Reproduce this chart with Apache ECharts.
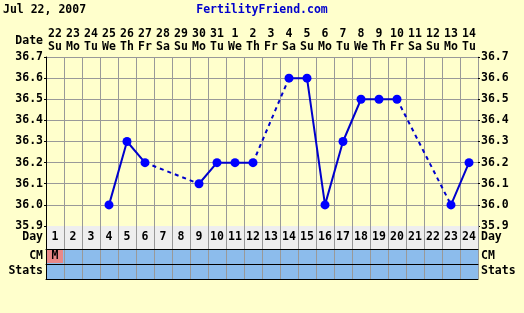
<!DOCTYPE html>
<html><head><meta charset="utf-8">
<script src="https://cdn.jsdelivr.net/npm/echarts@6/dist/echarts.min.js"></script>
<style>html,body{margin:0;padding:0;background:#ffffcc;}#c{width:524px;height:313px;}</style>
</head><body><div id="c"></div>
<script>
var titleText = 'Jul 22, 2007';
var siteText = 'FertilityFriend.com';
var dates = ['22','23','24','25','26','27','28','29','30','31','1','2','3','4','5','6','7','8','9','10','11','12','13','14'];
var weekdays = ['Su','Mo','Tu','We','Th','Fr','Sa','Su','Mo','Tu','We','Th','Fr','Sa','Su','Mo','Tu','We','Th','Fr','Sa','Su','Mo','Tu'];
var days = ['1','2','3','4','5','6','7','8','9','10','11','12','13','14','15','16','17','18','19','20','21','22','23','24'];
var temps = [null,null,null,36.0,36.3,36.2,null,null,36.1,36.2,36.2,36.2,null,36.6,36.6,36.0,36.3,36.5,36.5,36.5,null,null,36.0,36.2];
var cm = ['M','','','','','','','','','','','','','','','','','','','','','','',''];
var yTicks = [35.9,36.0,36.1,36.2,36.3,36.4,36.5,36.6,36.7];

var FONT = 'DejaVu Sans Mono';
var FS = 11.5;
var catsIdx = days.map(function(d,i){return i;});

var series = [];
series.push({
  type:'line', xAxisIndex:0, yAxisIndex:0, data:temps, connectNulls:false,
  symbol:'circle', symbolSize:9, showSymbol:true,
  lineStyle:{color:'#0000cc', width:2},
  itemStyle:{color:'#0000ff'}, z:5, animation:false
});
var prev = -1;
for (var i=0;i<temps.length;i++){
  if (temps[i]===null) continue;
  if (prev>=0 && i-prev>1){
    var d = temps.map(function(){return null;});
    d[prev]=temps[prev]; d[i]=temps[i];
    series.push({type:'line', xAxisIndex:0, yAxisIndex:0, data:d, connectNulls:true,
      symbol:'none', lineStyle:{color:'#0000cc', width:2, type:[4,4]}, z:4, animation:false});
  }
  prev=i;
}
function rowSeries(xi, yi, colors, labels){
  return {type:'bar', xAxisIndex:xi, yAxisIndex:yi, barCategoryGap:0, barGap:0,
    data: days.map(function(d,i){
      var pink = colors[i]==='#e88888';
      return {value:1, itemStyle:{color:colors[i], borderColor:pink?'#8cbcec':colors[i], borderWidth:pink?1:0}};
    }),
    label:{show:true, position:'inside', color:'#000', fontFamily:FONT, fontWeight:'bold', fontSize:FS,
      formatter:function(p){return labels[p.dataIndex];}},
    silent:true, animation:false, z:2};
}
series.push(rowSeries(2, 2, days.map(function(){return '#eeeeee';}), days));
series.push(rowSeries(3, 4, cm.map(function(c){return c==='M'?'#e88888':'#8cbcec';}), cm));
series.push(rowSeries(4, 6, days.map(function(){return '#8cbcec';}), days.map(function(){return '';})));

var grids = [
  {left:46, top:57, width:432, height:169},
  {left:46, top:226, width:432, height:23},
  {left:46, top:249, width:432, height:15},
  {left:46, top:264, width:432, height:15}
];
var gray = '#999999';
var txt = {color:'#000', fontFamily:FONT, fontWeight:'bold', fontSize:FS};

var xAxes = [
  {type:'category', gridIndex:0, data:catsIdx, position:'bottom', boundaryGap:true,
   axisLine:{show:true, lineStyle:{color:'#000'}}, axisTick:{show:false}, axisLabel:{show:false},
   splitLine:{show:true, interval:0, lineStyle:{color:gray}}},
  {type:'category', gridIndex:0, data:catsIdx, position:'top', boundaryGap:true,
   axisLine:{show:false}, axisTick:{show:false},
   axisLabel:Object.assign({interval:0, margin:3, lineHeight:13, formatter:function(v,i){return dates[i]+'\n'+weekdays[i];}}, txt),
   splitLine:{show:false}}
];
function rowX(g){
  return {type:'category', gridIndex:g, data:catsIdx, position:'bottom', boundaryGap:true, z:10,
   axisLine:{show:true, lineStyle:{color:'#000'}}, axisTick:{show:false}, axisLabel:{show:false},
   splitLine:{show:true, interval:0, lineStyle:{color:gray}}};
}
xAxes.push(rowX(1)); xAxes.push(rowX(2)); xAxes.push(rowX(3));

var yAxes = [
  {type:'value', gridIndex:0, position:'left', min:yTicks[0], max:yTicks[yTicks.length-1], interval:0.1,
   name:'Date', nameLocation:'end', nameGap:16, nameMoveOverlap:false,
   nameTextStyle:Object.assign({align:'right', verticalAlign:'middle', padding:[0,3,0,0]}, txt),
   axisLine:{show:true, lineStyle:{color:'#000'}}, axisTick:{show:true, length:2, lineStyle:{color:'#000'}},
   axisLabel:Object.assign({margin:3, formatter:function(v){return v.toFixed(1);}}, txt),
   splitLine:{show:true, lineStyle:{color:gray}}},
  {type:'value', gridIndex:0, position:'right', min:yTicks[0], max:yTicks[yTicks.length-1], interval:0.1,
   axisLine:{show:true, lineStyle:{color:gray}}, axisTick:{show:true, length:2, lineStyle:{color:'#000'}},
   axisLabel:Object.assign({margin:3, formatter:function(v){return v.toFixed(1);}}, txt),
   splitLine:{show:false}}
];
var rowNames = ['Day','CM','Stats'];
function rowY(g, name, pos){
  return {type:'value', gridIndex:g, position:pos, min:0, max:1, interval:0.5, z:10,
   axisLine:{show:pos==='left', lineStyle:{color:'#000'}}, axisTick:{show:false},
   axisLabel:Object.assign({margin:3, formatter:function(v){return v===0.5?name:'';}}, txt),
   splitLine:{show:false}};
}
for (var g=1; g<=3; g++){ yAxes.push(rowY(g, rowNames[g-1], 'left')); yAxes.push(rowY(g, rowNames[g-1], 'right')); }

var chart = echarts.init(document.getElementById('c'), null, {renderer:'canvas'});
chart.setOption({
  backgroundColor:'#ffffcc',
  animation:false,
  title:[
    {text:titleText, left:3, top:4, padding:0, textStyle:Object.assign({}, txt, {fontSize:11.5})},
    {text:siteText, left:'center', top:4, padding:0, textStyle:Object.assign({}, txt, {fontSize:11.5, color:'#0000cc'})}
  ],
  grid:grids,
  xAxis:xAxes,
  yAxis:yAxes,
  series:series
});
</script></body></html>
